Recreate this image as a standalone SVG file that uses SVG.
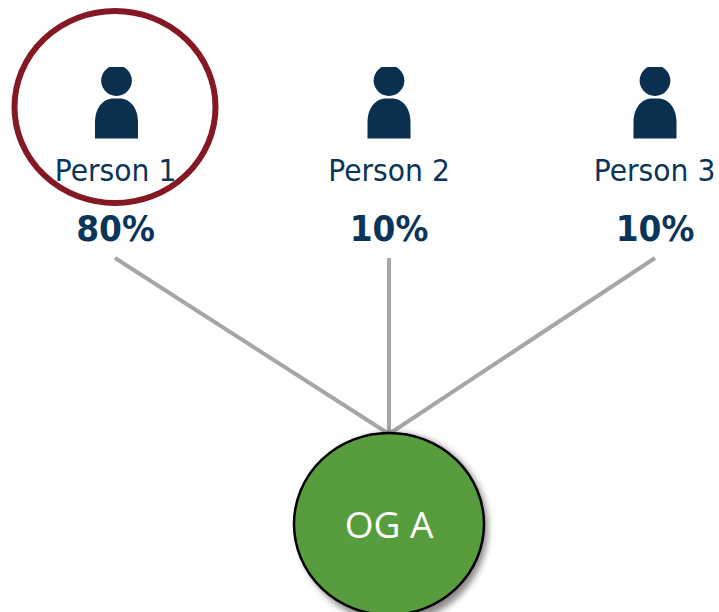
<svg xmlns="http://www.w3.org/2000/svg" width="719" height="612" viewBox="0 0 719 612">
<style>
.icon{fill:#0b2f4f}
.name{font-family:"DejaVu Sans",sans-serif;font-size:31px;fill:#0a3558;text-anchor:middle}
.pct{font-family:"DejaVu Sans",sans-serif;font-weight:700;font-size:35px;fill:#0a3558;text-anchor:middle}
.conn{stroke:#a6a6a6;stroke-width:4;fill:none}
</style>
<defs>
<g id="person">
<path d="M-7.200 -13.600H7.200A15.400 15.400 0 1 1 -7.200 -13.600Z"/>
<path d="M-21.500 58V42C-21.500 28 -14 18 -3 18H3C14 18 21.500 28 21.500 42V58Z"/>
</g>
<filter id="sh" x="-20%" y="-20%" width="150%" height="150%"><feGaussianBlur stdDeviation="3"/></filter>
</defs>
<rect width="719" height="612" fill="#ffffff"/>
<g id="connectors">
<line class="conn" x1="115" y1="258" x2="389" y2="434"/>
<line class="conn" x1="389" y1="258" x2="389" y2="434"/>
<line class="conn" x1="655" y1="258" x2="389" y2="434"/>
</g>
<g id="person-1">
<use href="#person" class="icon" x="116.500" y="80.600"/>
<text class="name" transform="translate(115.500 181) scale(.91 1)">Person 1</text>
<text class="pct" transform="translate(115.500 241) scale(.94 1)">80%</text>
</g>
<g id="person-2">
<use href="#person" class="icon" x="389" y="80.600"/>
<text class="name" transform="translate(389 181) scale(.91 1)">Person 2</text>
<text class="pct" transform="translate(389 241) scale(.94 1)">10%</text>
</g>
<g id="person-3">
<use href="#person" class="icon" x="655" y="80.600"/>
<text class="name" transform="translate(654.500 181) scale(.91 1)">Person 3</text>
<text class="pct" transform="translate(655 241) scale(.94 1)">10%</text>
</g>
<g id="highlight">
<ellipse cx="115" cy="107" rx="100.500" ry="96" fill="none" stroke="#851825" stroke-width="6"/>
</g>
<g id="og-a">
<ellipse cx="393" cy="528" rx="95" ry="95" fill="#000" fill-opacity="0.45" filter="url(#sh)"/>
<ellipse cx="389" cy="524" rx="95" ry="91" fill="#579d3e" stroke="#000" stroke-width="2.500"/>
<text x="389" y="538" text-anchor="middle" font-family="'Open Sans',sans-serif" font-size="37" fill="#ffffff">OG A</text>
</g>
</svg>
